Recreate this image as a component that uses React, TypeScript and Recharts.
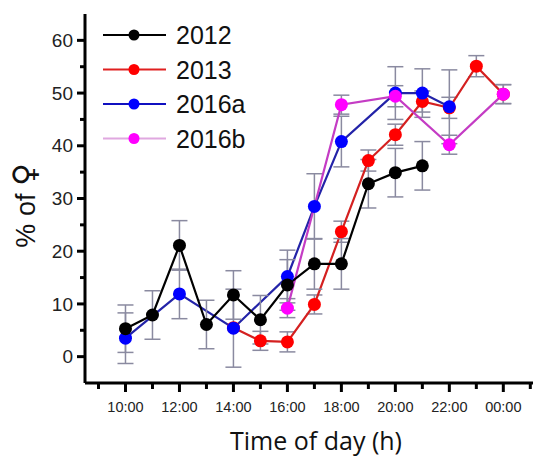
import React from "react";
import { LineChart, Line, XAxis, YAxis, ErrorBar, Legend } from "recharts";

// ---- data ----
const hours2012 = [10, 11, 12, 13, 14, 15, 16, 17, 18, 19, 20, 21];
const values2012 = [5.3, 7.9, 21.1, 6.1, 11.7, 7.0, 13.6, 17.6, 17.6, 32.8, 34.9, 36.2];
const errors2012 = [4.5, 4.6, 4.7, 4.6, 4.6, 4.6, 4.8, 4.8, 4.8, 4.6, 4.6, 4.6];

const hours2013 = [14, 15, 16, 17, 18, 19, 20, 21, 22, 23, 24];
const values2013 = [5.5, 3.0, 2.8, 9.9, 23.7, 37.2, 42.1, 48.4, 47.2, 55.1, 49.8];
const errors2013 = [0, 1.8, 1.9, 1.8, 2.0, 2.0, 2.0, 2.0, 2.0, 2.0, 1.8];

const hours2016a = [10, 12, 14, 16, 17, 18, 20, 21, 22];
const values2016a = [3.5, 11.9, 5.4, 15.2, 28.5, 40.8, 50.0, 50.0, 47.4];
const errors2016a = [4.8, 4.7, 7.4, 5.0, 6.2, 4.8, 5.0, 4.6, 7.0];

const hours2016b = [16, 18, 20, 22, 24];
const values2016b = [9.2, 47.8, 49.4, 40.2, 49.8];
const errors2016b = [1.8, 1.8, 2.0, 1.8, 1.8];

const seriesNames = ["2012", "2013", "2016a", "2016b"];
const xTicks = [9, 10, 11, 12, 13, 14, 15, 16, 17, 18, 19, 20, 21, 22, 23, 24, 25];
const yTicks = [0, 5, 10, 15, 20, 25, 30, 35, 40, 45, 50, 55, 60];

const build = (hs: number[], vs: number[], es: number[]) =>
  hs.map((h, i) => ({ h, v: vs[i], e: es[i] }));

const series = [
  { name: seriesNames[1], data: build(hours2013, values2013, errors2013), line: "#d42020", point: "#ff0000", legendLine: "#e02020" },
  { name: seriesNames[2], data: build(hours2016a, values2016a, errors2016a), line: "#2323a8", point: "#0000ff", legendLine: "#1010c0" },
  { name: seriesNames[3], data: build(hours2016b, values2016b, errors2016b), line: "#c43cc4", point: "#ff00ff", legendLine: "#e0a8e0" },
  { name: seriesNames[0], data: build(hours2012, values2012, errors2012), line: "#000000", point: "#000000", legendLine: "#000000" },
];

const legendOrder = [3, 0, 1, 2];

const fmtHour = (h: number) => `${String(h % 24).padStart(2, "0")}:00`;

const XTick = (props: any) => {
  const { x, y, payload } = props;
  const v = payload.value;
  const major = v % 2 === 0 && v >= 10 && v <= 24;
  return (
    <g>
      <line x1={x} x2={x} y1={y} y2={y + (major ? 9 : 6)} stroke="#000" strokeWidth={3} />
      {major && (
        <text x={x} y={y + 29} textAnchor="middle" fontSize={14.5} fontFamily="'Liberation Sans', Arial, sans-serif" fill="#222">
          {fmtHour(v)}
        </text>
      )}
    </g>
  );
};

const YTick = (props: any) => {
  const { x, y, payload } = props;
  const v = payload.value;
  const major = v % 10 === 0;
  return (
    <g>
      <line x1={x} x2={x - (major ? 8 : 5)} y1={y} y2={y} stroke="#000" strokeWidth={3} />
      {major && (
        <text x={x - 12} y={y} dy="0.35em" textAnchor="end" fontSize={19} fontFamily="'Liberation Sans', Arial, sans-serif" fill="#222">
          {v}
        </text>
      )}
    </g>
  );
};

const LegendBox = () => (
  <svg width={300} height={160} style={{ display: "block" }}>
    {legendOrder.map((si, i) => {
      const s = series[si];
      const cy = 35 + i * 34.5;
      return (
        <g key={s.name}>
          <line x1={103} x2={166} y1={cy} y2={cy} stroke={s.legendLine} strokeWidth={2} />
          <circle cx={134} cy={cy} r={5.5} fill={s.point} />
          <text x={176} y={cy} dy="0.36em" fontSize={25} fontFamily="'Liberation Sans', Arial, sans-serif" fill="#111">
            {s.name}
          </text>
        </g>
      );
    })}
  </svg>
);

export default function App() {
  return (
    <div style={{ position: "absolute", left: 0, top: 0, background: "#fff" }}>
      <LineChart width={535} height={457} margin={{ top: 14, right: 2, bottom: 0, left: 0 }}>
        <XAxis
          dataKey="h"
          type="number"
          domain={[8.5, 25.1]}
          ticks={xTicks}
          allowDataOverflow
          height={74}
          tickSize={0}
          tickMargin={0}
          tickLine={false}
          axisLine={{ stroke: "#000", strokeWidth: 3 }}
          tick={<XTick />}
          interval={0}
          label={{
            content: (p: any) => {
              const vb = p.viewBox;
              return (
                <text x={vb.x + vb.width / 2 + 7} y={vb.y + 67} textAnchor="middle" fontSize={25} fontFamily="'Open Sans', 'Noto Sans', sans-serif" fill="#111">
                  Time of day (h)
                </text>
              );
            },
          }}
        />
        <YAxis
          type="number"
          domain={[-5, 65]}
          ticks={yTicks}
          allowDataOverflow
          width={85}
          tickSize={0}
          tickMargin={0}
          tickLine={false}
          axisLine={{ stroke: "#000", strokeWidth: 3 }}
          tick={<YTick />}
          interval={0}
          label={{
            content: (p: any) => {
              const vb = p.viewBox;
              const cx = vb.x + 26;
              const cy = vb.y + vb.height / 2 + 7;
              return (
                <text x={cx} y={cy} dy="0.35em" textAnchor="middle" transform={`rotate(-90 ${cx} ${cy})`} fontSize={27} fontFamily="'Liberation Sans', Arial, sans-serif" fill="#111">
                  % of <tspan fontFamily="'DejaVu Sans', sans-serif" fontSize={31}>♀</tspan>
                </text>
              );
            },
          }}
        />
        <Legend
          layout="vertical"
          align="center"
          verticalAlign="middle"
          content={() => <LegendBox />}
          wrapperStyle={{ position: "absolute", left: 0, top: 0, width: 300, height: 160 }}
        />
        {series.map((s) => (
          <Line
            key={s.name}
            data={s.data}
            dataKey="v"
            name={s.name}
            stroke={s.line}
            strokeWidth={2.2}
            dot={{ r: 6.5, fill: s.point, stroke: s.point, strokeWidth: 0 }}
            activeDot={false}
            isAnimationActive={false}
          >
            <ErrorBar dataKey="e" direction="y" width={8} stroke="#8a8aa0" strokeWidth={1.5} />
          </Line>
        ))}
      </LineChart>
    </div>
  );
}
